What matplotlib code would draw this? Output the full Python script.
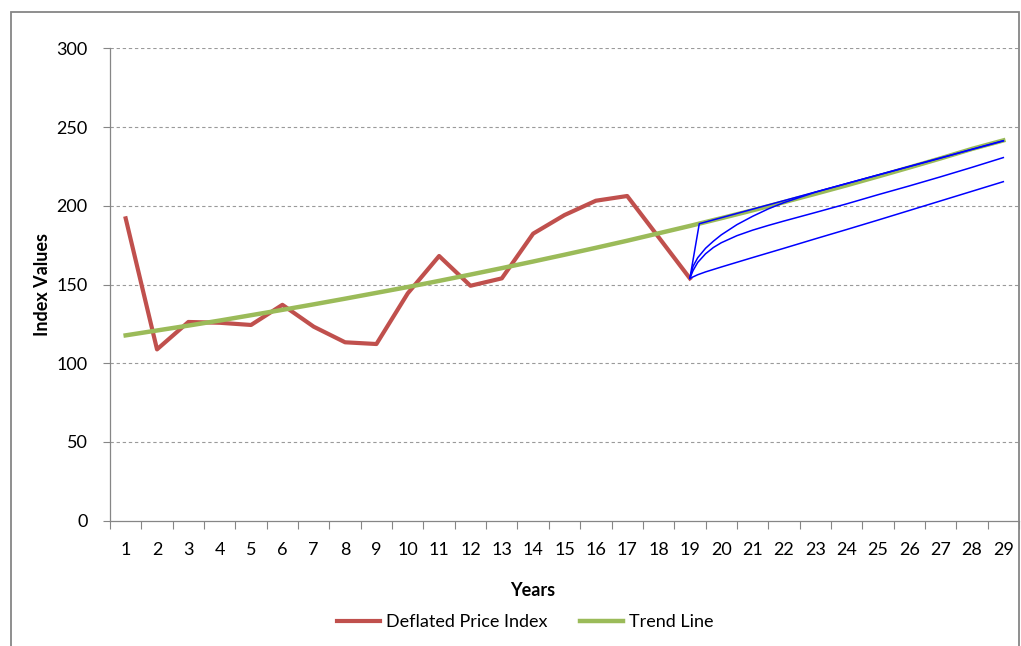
import matplotlib.pyplot as plt
from matplotlib.patches import Rectangle

# years on the category axis
years = list(range(1, 30))

# deflated price index, years 1-19
price_index = [192.0, 108.8, 126.2, 125.7, 124.3, 137.1, 123.2, 113.3, 112.2, 144.4,
               168.1, 149.2, 153.9, 182.3, 194.1, 203.2, 206.2, 180.1, 153.9]

# trend line, years 1-29
trend = [117.7, 120.8, 123.9, 127.1, 130.5, 133.9, 137.4, 141.0, 144.7, 148.4,
         152.3, 156.3, 160.4, 164.6, 168.9, 173.3, 177.8, 182.5, 187.2, 192.1,
         197.1, 202.3, 207.6, 213.0, 218.6, 224.3, 230.1, 236.1, 241.5]

# blue projection paths starting at year 19
path_a_x = [19, 19.3, 29]
path_a_y = [153.9, 188.6, 241.3]

path_b_x = [19, 19.1, 19.25, 19.5, 19.75, 20, 20.5, 21, 21.5, 22, 22.5, 23, 24, 25, 26, 27, 28, 29]
path_b_y = [153.9, 161.5, 167.0, 173.0, 177.5, 181.5, 188.0, 193.3, 198.0, 202.0, 205.3,
            208.6, 214.1, 219.5, 224.9, 230.3, 235.8, 241.2]

path_c_x = [19, 19.1, 19.25, 19.5, 19.75, 20, 20.5, 21, 21.5, 22, 22.5, 23, 24, 25, 26, 27, 28, 29]
path_c_y = [153.9, 158.8, 164.0, 169.5, 173.5, 176.5, 181.0, 184.5, 187.5, 190.3, 193.0,
            195.7, 201.2, 207.0, 212.6, 218.4, 224.4, 230.6]

path_d_x = [19, 19.25, 19.5, 20, 21, 22, 23, 24, 25, 26, 27, 28, 29]
path_d_y = [153.9, 156.2, 158.0, 161.1, 167.1, 173.0, 179.0, 184.9, 190.9, 197.0, 203.1, 209.2, 215.3]

plt.rcParams['font.family'] = ['Lato', 'DejaVu Sans']

fig = plt.figure(figsize=(10.21, 6.46), dpi=100)
ax = fig.add_axes([110 / 1021, 1 - 520.7 / 646, 909 / 1021, 472.4 / 646])

# outer chart border
fig.patches.append(Rectangle((11 / 1021, -0.02), 1008 / 1021, 1 - 12 / 646 + 0.02,
                             transform=fig.transFigure, fill=False,
                             edgecolor='#868686', linewidth=1.3))

ax.plot(years[:len(price_index)], price_index, color='#C0504D', linewidth=3,
        label='Deflated Price Index', solid_joinstyle='round', zorder=3)
ax.plot(years, trend, color='#9BBB59', linewidth=3.2, label='Trend Line',
        solid_joinstyle='round', zorder=3)
for px, py in [(path_a_x, path_a_y), (path_b_x, path_b_y), (path_c_x, path_c_y), (path_d_x, path_d_y)]:
    ax.plot(px, py, color='#0000FF', linewidth=1.1, solid_joinstyle='round', zorder=4)

ax.set_xlim(0.5, 29.5)
ax.set_ylim(0, 300)

# gridlines
for v in range(50, 301, 50):
    ax.axhline(v, color='#9a9a9a', linewidth=0.8, linestyle=(0, (3, 2.5)), zorder=1)

ax.set_yticks(range(0, 301, 50))
ax.tick_params(axis='y', length=5, width=0.8, color='#868686', pad=11, labelsize=13)

ax.set_xticks([i + 0.5 for i in range(0, 30)])
ax.set_xticklabels([])
ax.set_xticks(years, minor=True)
ax.set_xticklabels([str(y) for y in years], minor=True)
ax.tick_params(axis='x', which='major', length=6, width=0.8, color='#868686', direction='out')
ax.tick_params(axis='x', which='minor', length=0, pad=15, labelsize=13)

for s in ['top', 'right']:
    ax.spines[s].set_visible(False)
for s in ['left', 'bottom']:
    ax.spines[s].set_color('#868686')
    ax.spines[s].set_linewidth(0.9)

ax.set_xlabel('Years', fontsize=13, fontweight='bold')
ax.xaxis.set_label_coords(0.465, -0.147)
ax.xaxis.label.set_va('center')
ax.set_ylabel('Index Values', fontsize=13, fontweight='bold')
ax.yaxis.set_label_coords(-0.0748, 0.5)
ax.yaxis.label.set_va('center')

handles, labels = ax.get_legend_handles_labels()
fig.legend(handles, labels, loc='center', bbox_to_anchor=(525 / 1021, 1 - 622 / 646),
           ncol=2, frameon=False, fontsize=13, handlelength=2.4, handletextpad=0.3,
           columnspacing=1.8)

fig.savefig('out.png', dpi=100)
